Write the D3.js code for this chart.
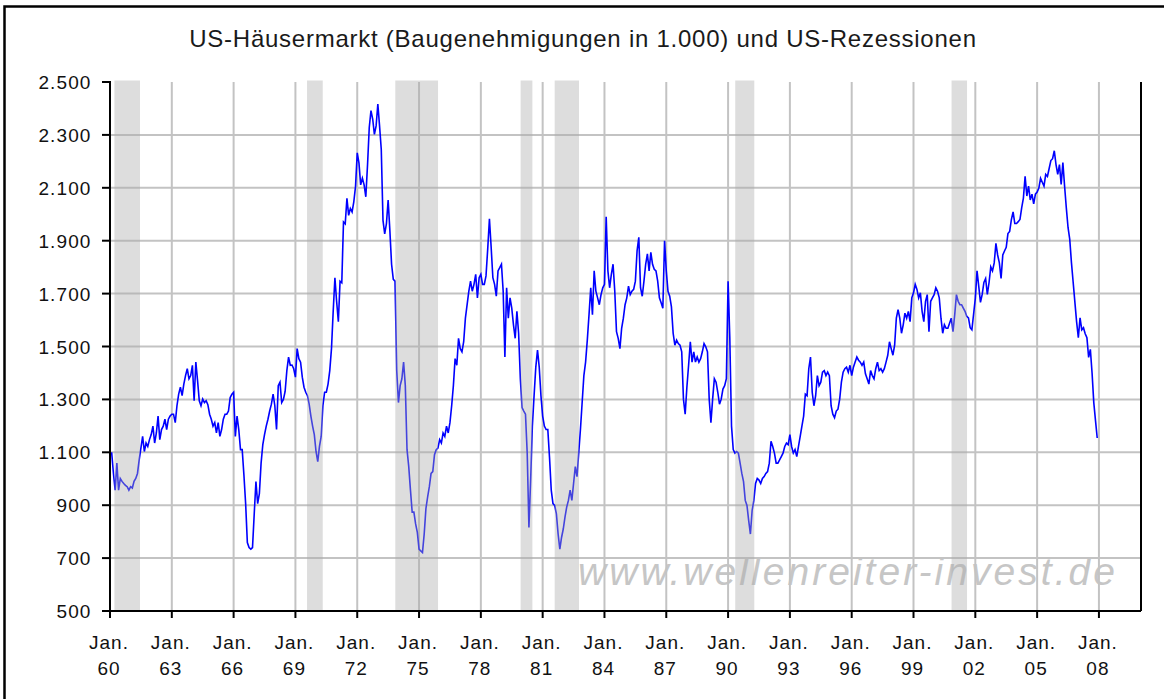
<!DOCTYPE html>
<html>
<head>
<meta charset="utf-8">
<script src="https://cdn.jsdelivr.net/npm/d3@7"></script>
<style>
  html, body { margin: 0; padding: 0; background: #ffffff; }
  svg { display: block; }
  text { font-family: "Liberation Sans", Arial, sans-serif; }
</style>
</head>
<body>
<svg id="chart" width="1164" height="699"></svg>
<script>
// ---------------- data ----------------
const title = "US-Häusermarkt (Baugenehmigungen in 1.000) und US-Rezessionen";
const watermark = "www.wellenreiter-invest.de";
const firstYear = 1960;   // series starts January 1960, monthly

// monthly building permits (thousands, annual rate)
const permits = [
  // 1960
  1097, 1097, 1020, 957, 1059, 957, 1001, 990, 982, 975, 970, 957,
  // 1961
  970, 965, 990, 1001, 1020, 1071, 1116, 1160, 1103, 1135, 1122, 1148,
  // 1962
  1167, 1199, 1135, 1173, 1237, 1148, 1186, 1199, 1225, 1186, 1225, 1237,
  // 1963
  1244, 1244, 1212, 1276, 1320, 1346, 1314, 1358, 1390, 1416, 1378, 1390,
  // 1964
  1429, 1295, 1441, 1371, 1295, 1276, 1301, 1288, 1295, 1280, 1244, 1225,
  // 1965
  1199, 1212, 1173, 1212, 1160, 1186, 1225, 1244, 1244, 1256, 1307, 1320,
  // 1966
  1327, 1160, 1237, 1186, 1110, 1110, 1014, 906, 759, 740, 734, 740,
  // 1967
  867, 989, 906, 944, 1059, 1129, 1167, 1199, 1225, 1256, 1282, 1320,
  // 1968
  1276, 1186, 1352, 1365, 1288, 1300, 1330, 1409, 1460, 1429, 1430, 1416,
  // 1969
  1384, 1492, 1454, 1441, 1384, 1346, 1327, 1314, 1282, 1237, 1199, 1167,
  // 1970
  1103, 1065, 1122, 1160, 1276, 1327, 1327, 1358, 1409, 1492, 1633, 1760,
  // 1971
  1670, 1594, 1747, 1741, 1971, 1964, 2060, 1996, 2022, 2009, 2047, 2105,
  // 1972
  2232, 2194, 2111, 2136, 2111, 2066, 2187, 2328, 2392, 2360, 2302, 2334,
  // 1973
  2417, 2334, 2245, 1977, 1926, 1964, 2054, 1939, 1811, 1754, 1747, 1409,
  // 1974
  1288, 1352, 1378, 1441, 1352, 1110, 1046, 957, 874, 874, 829, 797,
  // 1975
  734, 727, 721, 791, 887, 931, 970, 1020, 1027, 1091, 1110, 1116,
  // 1976
  1148, 1135, 1173, 1160, 1199, 1173, 1212, 1276, 1352, 1454, 1429, 1531,
  // 1977
  1492, 1480, 1518, 1607, 1658, 1709, 1747, 1709, 1735, 1773, 1684, 1760,
  // 1978
  1773, 1735, 1735, 1767, 1869, 1983, 1875, 1760, 1735, 1690, 1786, 1798,
  // 1979
  1811, 1709, 1460, 1722, 1607, 1684, 1645, 1582, 1531, 1633, 1550, 1378,
  // 1980
  1269, 1256, 1244, 1097, 816, 995, 1199, 1314, 1422, 1486, 1422, 1314,
  // 1981
  1237, 1199, 1186, 1186, 1080, 957, 906, 899, 867, 791, 734, 778,
  // 1982
  810, 855, 893, 918, 957, 918, 982, 1046, 1008, 1097, 1186, 1288,
  // 1983
  1390, 1441, 1524, 1620, 1722, 1620, 1786, 1709, 1684, 1658, 1696, 1722,
  // 1984
  1735, 1990, 1786, 1722, 1773, 1811, 1709, 1556, 1531, 1492, 1569, 1607,
  // 1985
  1658, 1684, 1728, 1696, 1709, 1716, 1747, 1862, 1913, 1722, 1690, 1747,
  // 1986
  1811, 1850, 1786, 1856, 1811, 1792, 1786, 1747, 1684, 1665, 1645, 1900,
  // 1987
  1786, 1709, 1690, 1650, 1550, 1505, 1524, 1511, 1505, 1480, 1301, 1244,
  // 1988
  1346, 1429, 1518, 1441, 1480, 1441, 1460, 1441, 1454, 1480, 1511, 1499,
  // 1989
  1480, 1301, 1212, 1301, 1378, 1365, 1327, 1282, 1301, 1339, 1352, 1378,
  // 1990
  1747, 1531, 1199, 1110, 1097, 1103, 1097, 1059, 1020, 989, 918, 899,
  // 1991
  842, 791, 880, 918, 982, 1001, 995, 982, 1001, 1008, 1020, 1027,
  // 1992
  1059, 1142, 1122, 1097, 1059, 1059, 1071, 1084, 1097, 1122, 1135, 1129,
  // 1993
  1167, 1122, 1097, 1110, 1084, 1122, 1160, 1199, 1237, 1320, 1314, 1416,
  // 1994
  1460, 1327, 1276, 1314, 1390, 1352, 1365, 1403, 1409, 1390, 1403, 1390,
  // 1995
  1276, 1244, 1231, 1256, 1263, 1301, 1365, 1403, 1416, 1422, 1403, 1429,
  // 1996
  1390, 1422, 1441, 1460, 1448, 1441, 1429, 1441, 1397, 1378, 1358, 1409,
  // 1997
  1390, 1378, 1416, 1441, 1409, 1416, 1403, 1416, 1441, 1467, 1518, 1492,
  // 1998
  1467, 1505, 1607, 1639, 1607, 1550, 1582, 1626, 1607, 1633, 1594, 1684,
  // 1999
  1703, 1735, 1716, 1684, 1703, 1633, 1594, 1671, 1696, 1556, 1671, 1684,
  // 2000
  1696, 1722, 1709, 1684, 1607, 1550, 1582, 1569, 1569, 1588, 1607, 1556,
  // 2001
  1620, 1696, 1671, 1658, 1658, 1645, 1633, 1614, 1608, 1571, 1563, 1623,
  // 2002
  1682, 1786, 1727, 1667, 1697, 1742, 1757, 1697, 1742, 1801, 1786, 1816,
  // 2003
  1890, 1846, 1816, 1757, 1846, 1861, 1875, 1927, 1935, 1980, 2009, 1965,
  // 2004
  1965, 1972, 1980, 2024, 2061, 2143, 2069, 2106, 2054, 2076, 2039, 2076,
  // 2005
  2084, 2099, 2136, 2121, 2106, 2151, 2143, 2173, 2203, 2210, 2240, 2188,
  // 2006
  2151, 2188, 2113, 2195, 2106, 2024, 1950, 1905, 1816, 1742, 1667, 1593,
  // 2007
  1533, 1608, 1563, 1571, 1548, 1533, 1459, 1489, 1400, 1288, 1220, 1154
];

// US recessions (shaded bands), as drawn in the picture
const recessionStart = ["1960-03-18", "1969-07-24", "1973-11-06", "1979-12-06", "1981-08-01", "1990-05-06", "2000-11-06"];
const recessionEnd   = ["1961-06-15", "1970-04-28", "1975-12-03", "1980-07-01", "1982-10-06", "1991-04-09", "2001-08-06"];

// axis ticks
const yTicks = [500, 700, 900, 1100, 1300, 1500, 1700, 1900, 2100, 2300, 2500];
const xTickYears = [1960, 1963, 1966, 1969, 1972, 1975, 1978, 1981, 1984, 1987, 1990, 1993, 1996, 1999, 2002, 2005, 2008];
const xTickMonth = "Jan.";
const xTickLabels = ["60", "63", "66", "69", "72", "75", "78", "81", "84", "87", "90", "93", "96", "99", "02", "05", "08"];

// ---------------- layout ----------------
const W = 1164, H = 699;
const plot = { left: 110, right: 1141, top: 82, bottom: 611 };
const monthsShown = 600.5;   // axis runs to about Feb 2010

const svg = d3.select("#chart");

const x = d3.scaleLinear().domain([0, monthsShown]).range([plot.left, plot.right]);
const y = d3.scaleLinear().domain([500, 2500]).range([plot.bottom, plot.top]);

const toMonthIndex = s => {
  const [yy, mm, dd] = s.split("-").map(Number);
  return (yy - firstYear) * 12 + (mm - 1) + (dd - 1) / 30;
};
const yearToIndex = yr => (yr - firstYear) * 12;

const deFormat = d3.formatLocale({ decimal: ",", thousands: ".", grouping: [3], currency: ["", "€"] }).format(",d");

// background
svg.append("rect").attr("x", 0).attr("y", 0).attr("width", W).attr("height", H).attr("fill", "#ffffff");

// outer frame
svg.append("rect")
  .attr("x", 4.5).attr("y", 6.5)
  .attr("width", W + 20).attr("height", H + 20)
  .attr("fill", "none").attr("stroke", "#000").attr("stroke-width", 2.5);

// title
svg.append("text")
  .attr("x", 583)
  .attr("y", 47)
  .attr("text-anchor", "middle")
  .attr("font-size", 24)
  .attr("letter-spacing", "0.75px")
  .attr("fill", "#1a1a1a")
  .text(title);

// watermark
svg.append("text")
  .attr("x", 578)
  .attr("y", 585)
  .attr("font-size", 39)
  .attr("font-style", "italic")
  .attr("fill", "#c6c6c6")
  .attr("textLength", 537)
  .attr("lengthAdjust", "spacing")
  .text(watermark);

// gridlines
const grid = svg.append("g").attr("stroke", "#c3c3c3").attr("stroke-width", 2);
grid.selectAll("line.h")
  .data(yTicks.filter(v => v > 500 && v < 2500))
  .join("line")
  .attr("x1", plot.left).attr("x2", plot.right)
  .attr("y1", d => y(d)).attr("y2", d => y(d));
grid.selectAll("line.v")
  .data(xTickYears.filter(yr => yr > firstYear))
  .join("line")
  .attr("x1", d => x(yearToIndex(d))).attr("x2", d => x(yearToIndex(d)))
  .attr("y1", plot.top).attr("y2", plot.bottom);

// data line
const line = d3.line()
  .x((d, i) => x(i))
  .y(d => y(d))
  .curve(d3.curveLinear);
svg.append("path")
  .datum(permits)
  .attr("d", line)
  .attr("fill", "none")
  .attr("stroke", "#0000ff")
  .attr("stroke-width", 1.6)
  .attr("stroke-linejoin", "miter");

// recession bands (semi-transparent, drawn on top)
svg.append("g").selectAll("rect")
  .data(recessionStart.map((s, i) => [toMonthIndex(s), toMonthIndex(recessionEnd[i])]))
  .join("rect")
  .attr("x", d => x(d[0]))
  .attr("width", d => x(d[1]) - x(d[0]))
  .attr("y", plot.top - 1.5)
  .attr("height", plot.bottom - plot.top + 0.5)
  .attr("fill", "#aaaaaa")
  .attr("fill-opacity", 0.4);

// plot border
svg.append("line").attr("x1", plot.left).attr("x2", plot.right).attr("y1", plot.bottom).attr("y2", plot.bottom)
  .attr("stroke", "#000").attr("stroke-width", 2);
svg.append("line").attr("x1", plot.right).attr("x2", plot.right).attr("y1", plot.top).attr("y2", plot.bottom)
  .attr("stroke", "#000").attr("stroke-width", 2);
svg.append("line").attr("x1", plot.left).attr("x2", plot.left).attr("y1", plot.top - 1).attr("y2", plot.bottom + 1)
  .attr("stroke", "#000").attr("stroke-width", 2);

// y axis ticks and labels
const yAxisG = svg.append("g");
yAxisG.selectAll("line")
  .data(yTicks)
  .join("line")
  .attr("x1", plot.left - 8).attr("x2", plot.left)
  .attr("y1", d => y(d)).attr("y2", d => y(d))
  .attr("stroke", "#000").attr("stroke-width", 2);
yAxisG.selectAll("text")
  .data(yTicks)
  .join("text")
  .attr("x", 91.5)
  .attr("y", d => y(d) + 7)
  .attr("text-anchor", "end")
  .attr("font-size", 19)
  .attr("letter-spacing", "1.1px")
  .attr("fill", "#111")
  .text(d => deFormat(d));

// x axis ticks and labels
const xAxisG = svg.append("g");
xAxisG.selectAll("line")
  .data(xTickYears)
  .join("line")
  .attr("x1", d => x(yearToIndex(d))).attr("x2", d => x(yearToIndex(d)))
  .attr("y1", plot.bottom).attr("y2", plot.bottom + 7)
  .attr("stroke", "#000").attr("stroke-width", 2);
const xl = xAxisG.selectAll("g.lbl")
  .data(xTickYears)
  .join("g")
  .attr("transform", d => `translate(${x(yearToIndex(d)) - 1},0)`);
xl.append("text")
  .attr("y", 649)
  .attr("text-anchor", "middle")
  .attr("font-size", 19)
  .attr("letter-spacing", "1px")
  .attr("fill", "#111")
  .text(xTickMonth);
xl.append("text")
  .attr("y", 675)
  .attr("text-anchor", "middle")
  .attr("font-size", 19)
  .attr("letter-spacing", "1px")
  .attr("fill", "#111")
  .text((d, i) => xTickLabels[i]);
</script>
</body>
</html>
